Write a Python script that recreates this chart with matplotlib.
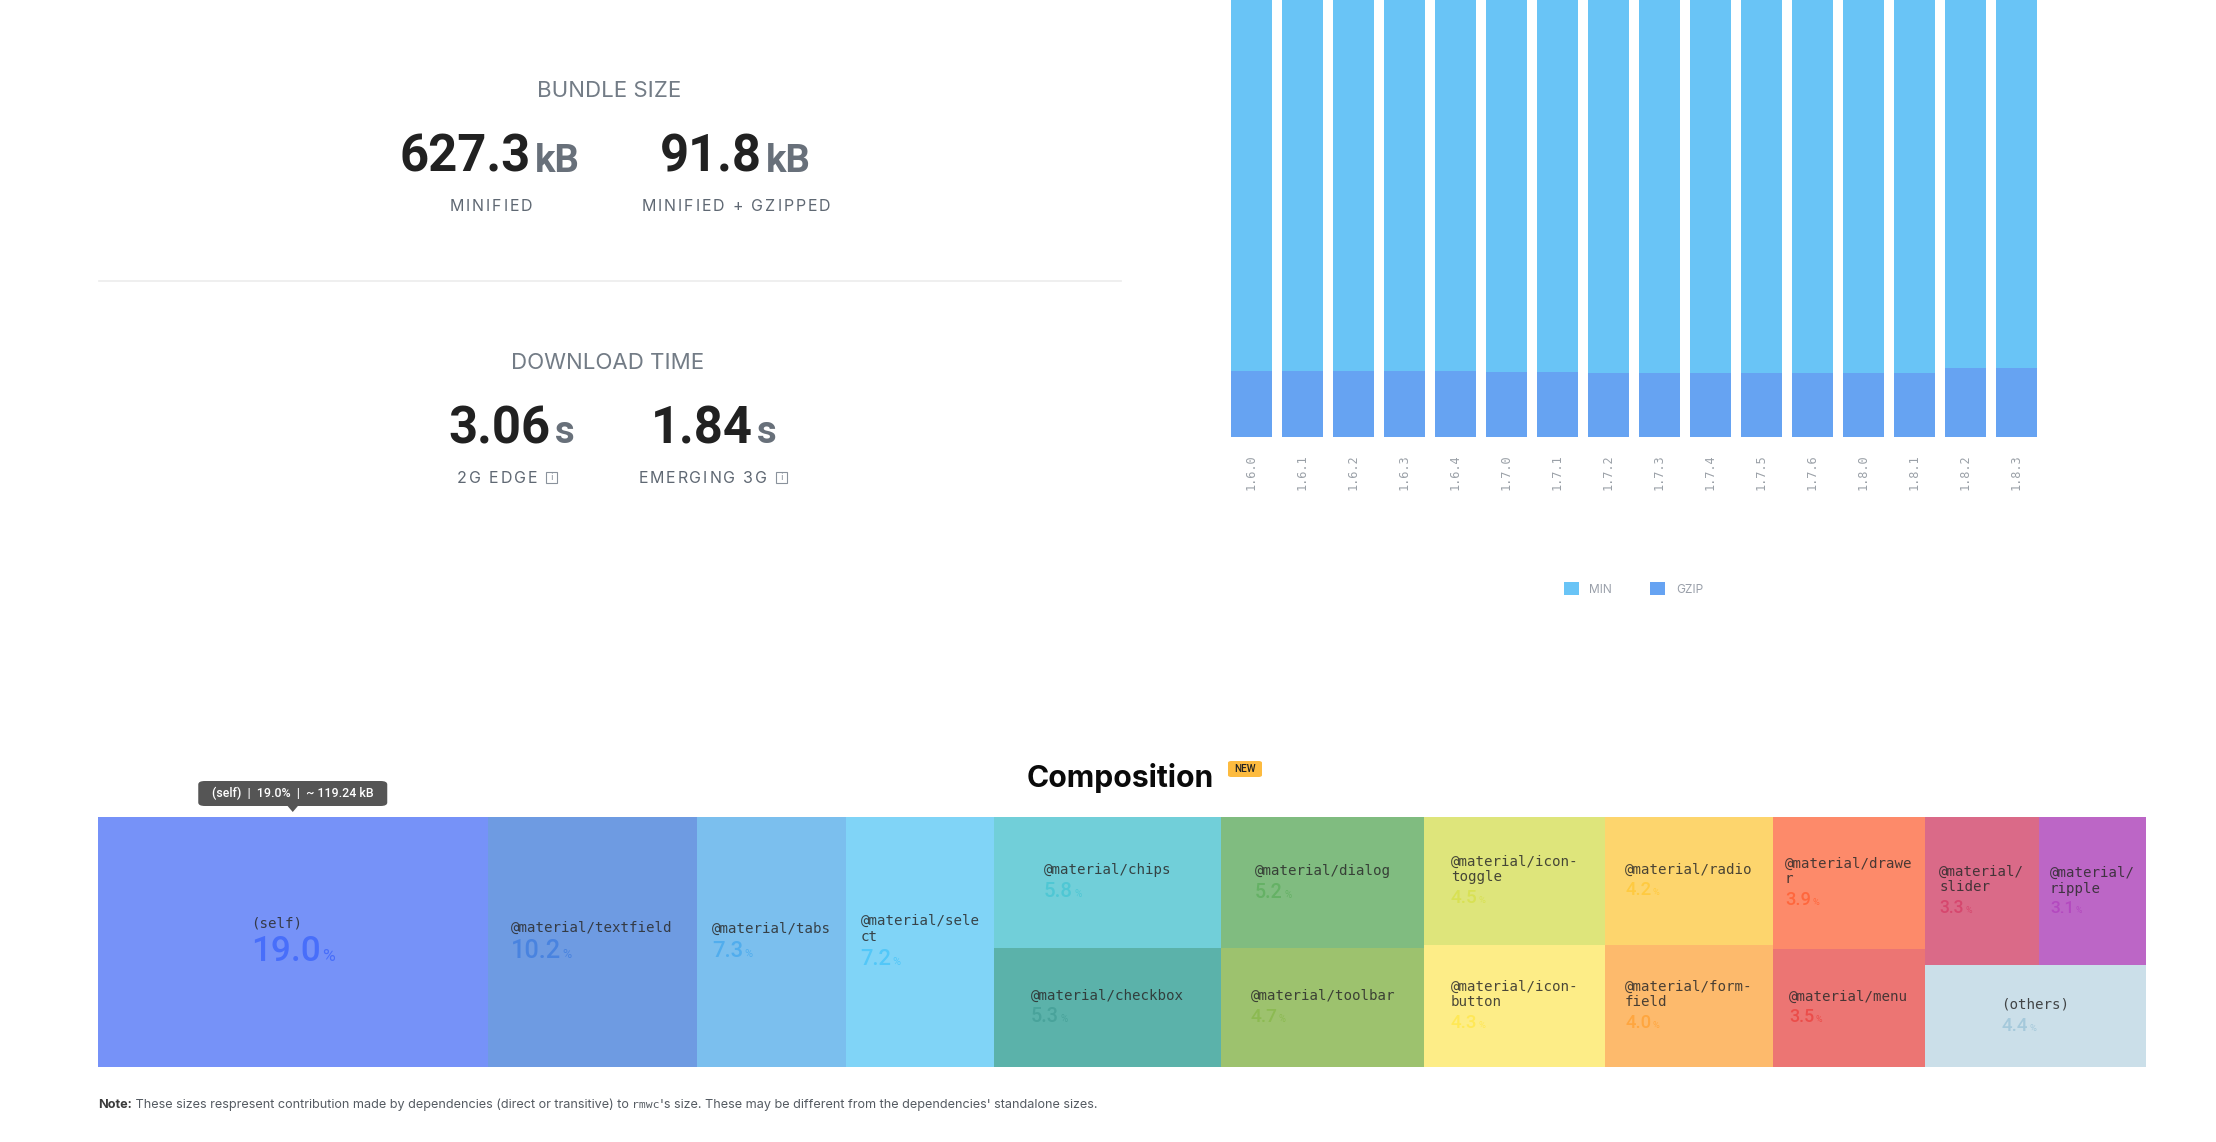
import matplotlib
matplotlib.use("Agg")
import matplotlib.pyplot as plt
import matplotlib.colors as mcolors
from matplotlib.patches import Rectangle, FancyBboxPatch, Polygon
from matplotlib.lines import Line2D
from matplotlib.offsetbox import TextArea, VPacker, HPacker, AnnotationBbox
import numpy as np
import colorsys

W, H = 2216, 1142

# ---------------- data ----------------
versions = ["1.6.0", "1.6.1", "1.6.2", "1.6.3", "1.6.4", "1.7.0", "1.7.1", "1.7.2",
            "1.7.3", "1.7.4", "1.7.5", "1.7.6", "1.8.0", "1.8.1", "1.8.2", "1.8.3"]
min_kb = [601.2, 601.5, 601.8, 602.0, 602.3, 593.4, 593.8, 588.1,
          588.4, 588.6, 588.9, 589.2, 589.5, 589.8, 627.0, 627.3]
gzip_kb = [87.8, 87.8, 87.8, 87.8, 87.8, 86.5, 86.5, 85.2,
           85.2, 85.2, 85.2, 85.2, 85.2, 85.2, 91.7, 91.8]

stat_values = ["627.3", "91.8"]
stat_units = ["kB", "kB"]
stat_labels = ["MINIFIED", "MINIFIED + GZIPPED"]
time_values = ["3.06", "1.84"]
time_units = ["s", "s"]
time_labels = ["2G EDGE", "EMERGING 3G"]

dep_names = ["(self)", "@material/textfield", "@material/tabs", "@material/sele\nct",
             "@material/chips", "@material/checkbox", "@material/dialog", "@material/toolbar",
             "@material/icon-\ntoggle", "@material/icon-\nbutton", "@material/radio",
             "@material/form-\nfield", "@material/drawe\nr", "@material/menu",
             "@material/\nslider", "@material/\nripple", "(others)"]
dep_pct = [19.0, 10.2, 7.3, 7.2, 5.8, 5.3, 5.2, 4.7, 4.5, 4.3, 4.2, 4.0, 3.9, 3.5, 3.3, 3.1, 4.4]
# treemap structure: columns -> rows -> items (indices into dep lists)
tree_layout = [[[0]], [[1]], [[2]], [[3]], [[4], [5]], [[6], [7]], [[8], [9]],
               [[10], [11]], [[12], [13]], [[14, 15], [16]]]
self_size_kb = "119.24"

# ---------------- styles ----------------
dep_colors = ["#7692F8", "#6E9BE2", "#7BBFEE", "#80D4F7", "#71CFD9", "#5BB2AA",
              "#80BC80", "#9DC26E", "#DEE57B", "#FDED87", "#FDD56D", "#FDBA6C",
              "#FD8A6A", "#EC7573", "#DA6A88", "#BC66C6", "#CBDFE9"]
MIN_C = "#69C4F6"
GZ_C = "#66A3F2"
LBL_C = "#5f6873"


def darker(c):
    r, g, b = mcolors.to_rgb(c)
    h, l, s = colorsys.rgb_to_hls(r, g, b)
    return colorsys.hls_to_rgb(h, l * 0.88, min(1.0, s * 1.05))


def fx(x):
    return x / W


def fy(y):
    return 1 - y / H


fig = plt.figure(figsize=(W / 100, H / 100), dpi=100)
fig.patch.set_facecolor("white")


def spaced(text, x, y, size, color, track_px, halign):
    kids = [TextArea(ch, textprops=dict(family="Inter", size=size, color=color)) for ch in text]
    hp = HPacker(children=kids, align="baseline", pad=0, sep=track_px * 72 / 100)
    fig.add_artist(AnnotationBbox(hp, (x, H - y), xycoords="figure pixels",
                                  box_alignment=(halign, 0.5), frameon=False, pad=0))


# ---------------- left stats panel ----------------
fig.text(fx(609), fy(97), "BUNDLE SIZE", family="Inter", size=16,
         color="#737c86", ha="center", va="baseline")
num_gap = [531, 762]
for i in range(2):
    fig.text(fx(num_gap[i]), fy(172), stat_values[i], family="Roboto", weight="bold",
             size=36.5, color="#212121", ha="right", va="baseline")
    fig.text(fx(num_gap[i] + 4), fy(172), stat_units[i], family="Roboto", weight="bold",
             size=27.5, color="#68707a", ha="left", va="baseline")
for cx, lab in zip([491, 736], stat_labels):
    spaced(lab, cx, 206.5, 11.5, LBL_C, 1.9, 0.5)

fig.add_artist(Line2D([fx(99), fx(1121)], [fy(281), fy(281)], color="#ececec", lw=1.2))

fig.text(fx(608), fy(369), "DOWNLOAD TIME", family="Inter", size=16,
         color="#737c86", ha="center", va="baseline")
tgap = [551, 753]
for i in range(2):
    fig.text(fx(tgap[i]), fy(443), time_values[i], family="Roboto", weight="bold",
             size=36.5, color="#212121", ha="right", va="baseline")
    fig.text(fx(tgap[i] + 4), fy(443), time_units[i], family="Roboto", weight="bold",
             size=27.5, color="#68707a", ha="left", va="baseline")
for xr, lab in zip([541, 771], time_labels):
    spaced(lab, xr - 4, 478.5, 11.5, LBL_C, 1.9, 1.0)
    fig.add_artist(Rectangle((fx(xr + 5), fy(483)), 11 / W, 11 / H, transform=fig.transFigure,
                             fill=False, ec="#8a929c", lw=0.8))
    fig.text(fx(xr + 10.5), fy(477.5), "i", family="DejaVu Sans", size=6.5, color="#8a929c",
             ha="center", va="center")

# ---------------- bar chart ----------------
axb = fig.add_axes([fx(1226), fy(437), 816 / W, 437 / H])
xpos = np.arange(len(versions))
axb.bar(xpos, min_kb, width=0.808, color=MIN_C, label="MIN")
axb.bar(xpos, gzip_kb, width=0.808, color=GZ_C, label="GZIP")
axb.set_xlim(-0.5, len(versions) - 0.5)
axb.set_ylim(0, 581.4)
for sp in axb.spines.values():
    sp.set_visible(False)
axb.set_yticks([])
axb.set_xticks(xpos)
axb.set_xticklabels(versions, rotation=90, family="DejaVu Sans Mono", size=8.6,
                    color="#9aa0a7")
axb.tick_params(axis="x", length=0, pad=12.5)
axb.patch.set_alpha(0)
axb.legend(loc="center", bbox_to_anchor=(fx(1633.5), fy(589)), bbox_transform=fig.transFigure,
           ncol=2, frameon=False, prop={"family": "Inter", "size": 8.6},
           handlelength=1.25, handleheight=1.25, handletextpad=0.9, columnspacing=3.2,
           borderpad=0, labelcolor="#9aa0aa")

# ---------------- composition title ----------------
fig.text(fx(1027), fy(787), "Composition", family="Inter", weight="bold", size=21.7,
         color="#0a0a0a", ha="left", va="baseline")
fig.add_artist(FancyBboxPatch((fx(1228), fy(777)), 34 / W, 16 / H, transform=fig.transFigure,
                              boxstyle="round,pad=0,rounding_size=0.0015", fc="#FDBB3F", ec="none"))
fig.text(fx(1245), fy(769), "NEW", family="Roboto", weight="medium", size=7.2,
         color="#222222", ha="center", va="center")

# ---------------- treemap ----------------
axt = fig.add_axes([fx(98), fy(1067), 2048 / W, 250 / H])
total = sum(dep_pct)
axt.set_xlim(0, total)
axt.set_ylim(1, 0)
axt.axis("off")

centers = {}
x0 = 0.0
for col in tree_layout:
    col_sum = sum(dep_pct[i] for row in col for i in row)
    y0 = 0.0
    for row in col:
        row_sum = sum(dep_pct[i] for i in row)
        h = row_sum / col_sum
        xi = x0
        for i in row:
            w = col_sum * dep_pct[i] / row_sum
            axt.add_patch(Rectangle((xi, y0), w, h, fc=dep_colors[i], ec="none", lw=0))
            centers[i] = (xi + w / 2, y0 + h / 2)
            xi += w
        y0 += h
    x0 += col_sum

for i, name in enumerate(dep_names):
    nc = darker(dep_colors[i])
    s = 10 + 0.8 * dep_pct[i]
    lab = TextArea(name, textprops=dict(family="DejaVu Sans Mono", size=10.2,
                                        color="#2a2a2a", alpha=0.85, linespacing=1.15))
    num = TextArea(f"{dep_pct[i]:.1f}", textprops=dict(family="Roboto", weight="medium",
                                                      size=s, color=nc))
    per = TextArea("%", textprops=dict(family="Roboto", size=s * 0.5, color=nc))
    row = HPacker(children=[num, per], align="baseline", pad=0, sep=1)
    box = VPacker(children=[lab, row], align="left", pad=0, sep=3.5)
    ab = AnnotationBbox(box, centers[i], xycoords="data", box_alignment=(0.5, 0.5),
                        frameon=False, pad=0)
    axt.add_artist(ab)

# tooltip over (self)
tip_x = 98 + 2048 * centers[0][0] / total
fig.add_artist(FancyBboxPatch((fx(tip_x - 94.5), fy(806)), 189 / W, 25 / H,
                              transform=fig.transFigure,
                              boxstyle="round,pad=0,rounding_size=0.003",
                              fc="#555555", ec="none"))
fig.add_artist(Polygon([(fx(tip_x - 6), fy(805)), (fx(tip_x + 6), fy(805)), (fx(tip_x), fy(812))],
                       closed=True, transform=fig.transFigure, fc="#555555", ec="none"))
fig.text(fx(tip_x), fy(793.5),
         f"{dep_names[0]}  |  {dep_pct[0]:.1f}%  |  ~ {self_size_kb} kB",
         family="Roboto", weight="medium", size=8.9, color="white", ha="center", va="center")

# ---------------- note ----------------
nsz = 9.1
parts = [TextArea("Note:", textprops=dict(family="Inter", weight="bold", size=nsz, color="#3a3a3a")),
         TextArea(" These sizes respresent contribution made by dependencies (direct or transitive) to ",
                  textprops=dict(family="Inter", size=nsz, color="#555b62")),
         TextArea("rmwc", textprops=dict(family="DejaVu Sans Mono", size=nsz * 0.9, color="#555b62")),
         TextArea("'s size. These may be different from the dependencies' standalone sizes.",
                  textprops=dict(family="Inter", size=nsz, color="#555b62"))]
note = HPacker(children=parts, align="baseline", pad=0, sep=0)
fig.add_artist(AnnotationBbox(note, (98, H - 1105), xycoords="figure pixels",
                              box_alignment=(0, 0.5), frameon=False, pad=0))

fig.savefig("out.png", dpi=100, facecolor="white")
